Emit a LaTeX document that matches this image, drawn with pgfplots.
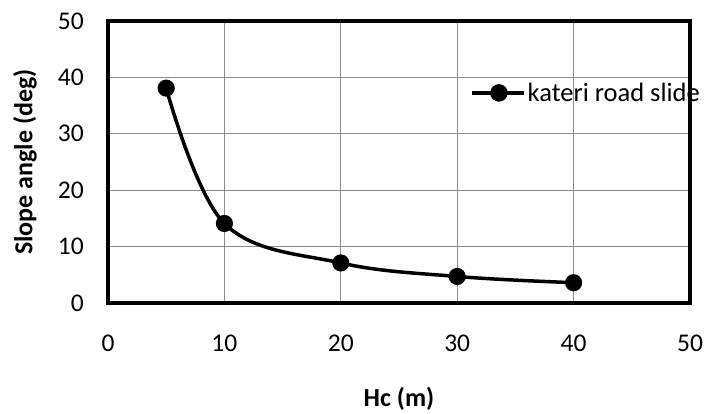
\documentclass[border=0pt]{standalone}
\usepackage{fontspec}
\setmainfont{Carlito}
\usepackage{pgfplots}
\pgfplotsset{compat=1.18}

\begin{document}
\begin{tikzpicture}
\begin{axis}[
    name=main,
    scale only axis,
    width=582pt, height=282pt,
    xmin=0, xmax=50, ymin=0, ymax=50,
    xtick={0,10,...,50}, ytick={0,10,...,50},
    grid=major,
    grid style={black!45, line width=1.3pt},
    axis line style={black, line width=3.5pt},
    major tick length=0pt,
    tick label style={font=\fontsize{25.5}{29}\selectfont, inner sep=0pt},
    /pgf/number format/assume math mode=true,
    xticklabel style={anchor=north, yshift=-32pt},
    yticklabel style={anchor=east, xshift=-24pt},
    xlabel={\textbf{Hc (m)}},
    ylabel={\textbf{Slope angle (deg)}},
    label style={font=\fontsize{26}{30}\selectfont, inner sep=0pt},
    xlabel style={at={(axis description cs:0.5,0)}, anchor=north, yshift=-84pt},
    ylabel style={at={(axis description cs:0,0.5)}, anchor=south, rotate=0, yshift=71pt},
    legend style={draw=none, fill=none, at={(0.622,0.745)}, anchor=west,
        font=\fontsize{26.5}{30}\selectfont, inner sep=0pt},
    legend cell align=left,
    legend image code/.code={\draw[line width=3.5pt] (0pt,0pt) -- (52pt,0pt);
        \fill (27pt,0pt) circle (7pt);},
    clip=false,
]
\addplot[black, line width=3.5pt, smooth, tension=0.6, mark=*, mark size=6.8pt]
    coordinates {(5,38.1) (10,14.1) (20,7.1) (30,4.7) (40,3.6)};
\legend{kateri road slide}
\end{axis}
\pgfresetboundingbox
\path ([shift={(-108pt,-111pt)}]main.south west) rectangle ([shift={(21pt,21pt)}]main.north east);
\end{tikzpicture}
\end{document}
